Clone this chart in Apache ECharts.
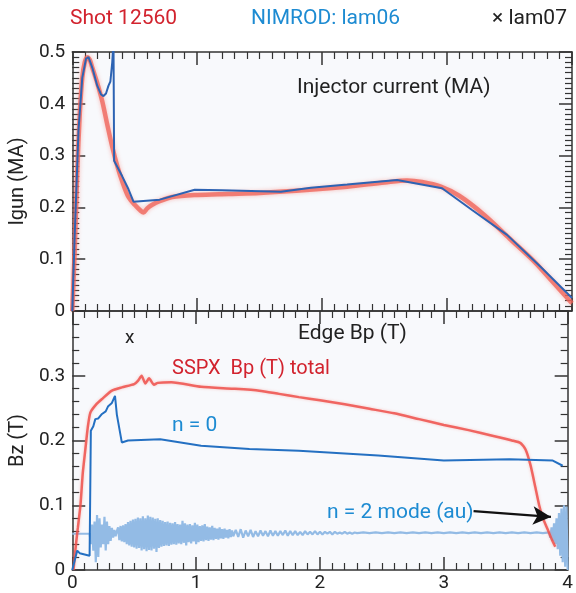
<!DOCTYPE html>
<html><head><meta charset="utf-8">
<script src="https://cdn.jsdelivr.net/npm/echarts@6/dist/echarts.min.js"></script>
<style>html,body{margin:0;padding:0;background:#fff}#c{width:576px;height:593px}</style>
</head><body><div id="c"></div>
<script>
// ---- Data ----
const xTicks = [0, 1, 2, 3, 4];
const topYTicks = [0, 0.1, 0.2, 0.3, 0.4, 0.5];
const botYTicks = [0, 0.1, 0.2, 0.3];

// Top panel: injector current (MA)
const shotIgun = [[0,0],[0.02,0.12],[0.04,0.27],[0.06,0.38],[0.08,0.45],[0.10,0.48],[0.12,0.49],[0.14,0.485],[0.16,0.47],[0.20,0.44],[0.24,0.405],[0.28,0.36],[0.32,0.317],[0.36,0.28],[0.40,0.25],[0.45,0.22],[0.50,0.205],[0.55,0.193],[0.57,0.19],[0.60,0.198],[0.64,0.205],[0.70,0.212],[0.80,0.220],[1.0,0.224],[1.25,0.226],[1.5,0.228],[1.9,0.234],[2.2,0.240],[2.5,0.248],[2.68,0.252],[2.8,0.249],[2.95,0.240],[3.1,0.222],[3.3,0.185],[3.5,0.140],[3.7,0.095],[3.85,0.055],[4.0,0.015]];
const nimrodIgun = [[0,0],[0.02,0.15],[0.05,0.35],[0.08,0.45],[0.11,0.487],[0.13,0.49],[0.16,0.47],[0.20,0.435],[0.23,0.418],[0.25,0.415],[0.27,0.42],[0.29,0.435],[0.305,0.443],[0.32,0.48],[0.33,0.52],[0.335,0.29],[0.40,0.26],[0.45,0.235],[0.49,0.211],[0.7,0.215],[0.98,0.234],[1.2,0.233],[1.51,0.231],[1.67,0.230],[1.91,0.238],[2.2,0.244],[2.6,0.253],[2.96,0.237],[3.2,0.195],[3.48,0.147],[3.75,0.085],[4.0,0.025]];

// Bottom panel: edge Bp (T)
const sspxBp = [[0.01,0.0],[0.03,0.04],[0.045,0.065],[0.066,0.1],[0.085,0.15],[0.106,0.187],[0.125,0.22],[0.146,0.243],[0.19,0.255],[0.24,0.264],[0.32,0.277],[0.40,0.282],[0.50,0.287],[0.53,0.292],[0.56,0.300],[0.59,0.288],[0.62,0.296],[0.66,0.286],[0.69,0.289],[0.8,0.290],[1.04,0.283],[1.3,0.280],[1.51,0.277],[1.67,0.272],[1.83,0.267],[2.0,0.262],[2.2,0.256],[2.4,0.249],[2.6,0.242],[2.8,0.233],[3.0,0.224],[3.2,0.216],[3.4,0.207],[3.55,0.200],[3.62,0.196],[3.66,0.186],[3.70,0.162],[3.74,0.127],[3.77,0.100],[3.80,0.080],[3.84,0.062],[3.87,0.048],[3.90,0.036]];
const nZero = [[0,0],[0.02,0.015],[0.04,0.03],[0.06,0.026],[0.10,0.024],[0.14,0.022],[0.15,0.215],[0.17,0.222],[0.186,0.233],[0.21,0.234],[0.24,0.241],[0.27,0.245],[0.29,0.253],[0.32,0.258],[0.345,0.269],[0.36,0.24],[0.40,0.197],[0.45,0.200],[0.71,0.202],[1.04,0.192],[1.43,0.187],[1.83,0.184],[2.47,0.177],[3.0,0.169],[3.53,0.171],[3.88,0.169],[3.96,0.161]];

// n = 2 mode (au): sampled segments {start, step, values}
const n2Flat = [[0,0.056],[0.14,0.056]];
const n2SegB = {start:0.15, step:0.01, values:[0.040,0.070,0.030,0.075,0.012,0.085,0.020,0.080,0.035,0.070,0.040,0.082,0.030,0.075,0.040,0.068,0.045,0.065,0.050,0.062,0.052,0.060]};
const n2SegC = {start:0.37, step:0.01, values:[0.066,0.046,0.068,0.044,0.069,0.043,0.071,0.040,0.074,0.038,0.076,0.036,0.078,0.035,0.079,0.033,0.081,0.034,0.080,0.030,0.083,0.032,0.080,0.029,0.084,0.031,0.082,0.030,0.081,0.033,0.079,0.028,0.080,0.034,0.077,0.036,0.076,0.037,0.074,0.038,0.075,0.037,0.073,0.039,0.072,0.040,0.074,0.039,0.071,0.041,0.070,0.040,0.076,0.042,0.072,0.038,0.070,0.043,0.071,0.041,0.069,0.044,0.073,0.040,0.070,0.043,0.068,0.045,0.069,0.044,0.071,0.046,0.067,0.045,0.066,0.047,0.068,0.046,0.065,0.048,0.064,0.047,0.066,0.049,0.063,0.048,0.064,0.050,0.062,0.049,0.063,0.051,0.061,0.052]};
const n2SegD = {start:1.32, step:0.02, values:[0.062,0.051,0.063,0.050,0.061,0.052,0.062,0.051,0.060,0.052,0.061,0.053,0.060,0.052,0.061,0.053,0.060,0.053,0.060,0.054,0.061,0.053,0.060,0.054,0.060,0.054,0.059,0.054,0.060,0.055,0.059,0.055,0.060,0.055,0.059,0.055,0.059,0.056,0.059,0.055,0.059,0.056,0.058,0.056,0.059,0.056,0.058,0.056,0.058,0.057]};
const n2SegE = {start:2.35, step:0.05, values:[0.058,0.057,0.058,0.057,0.058,0.057,0.058,0.057,0.058,0.057,0.058,0.057,0.058,0.057,0.058,0.057,0.058,0.057,0.058,0.057,0.058,0.057,0.058,0.057,0.058,0.057,0.058,0.057,0.058,0.057,0.058]};
const n2SegF = {start:3.86, step:0.01, values:[0.050,0.066,0.045,0.072,0.040,0.080,0.032,0.088,0.022,0.095,0.012,0.100,0.005,0.098,0.0]};

// Annotation arrow (data coords, bottom panel)
const arrowFrom = [3.24, 0.091];
const arrowTo = [3.865, 0.082];

// ---- Build ----
function seg(s){ return s.values.map((v,i)=>[+(s.start+i*s.step).toFixed(4), v]); }
const nTwo = n2Flat.concat(seg(n2SegB), seg(n2SegC), seg(n2SegD), seg(n2SegE), seg(n2SegF));

const FONT = 'Roboto';
const AX = '#333';
function xAx(grid, pos, labels){
  return {type:'value', gridIndex:grid, position:pos, min:0, max:4, interval:1,
    axisLine:{show:true, onZero:false, lineStyle:{color:AX, width:1.5}},
    axisTick:{show:true, inside:true, length:13, lineStyle:{color:AX, width:1.5}},
    minorTick:{show:true, splitNumber:10, length:7, lineStyle:{color:AX, width:1.2}},
    splitLine:{show:false},
    axisLabel:{show:labels, color:'#222', fontSize:19, fontFamily:FONT, margin:4,
      formatter: v => xTicks.includes(v) ? String(v) : ''}};
}
function yAx(grid, pos, max, minorN, labels, ticks, name){
  return {type:'value', gridIndex:grid, position:pos, min:0, max:max, interval:0.1,
    name: name || '', nameLocation:'middle', nameGap:42, nameRotate:90,
    nameTextStyle:{color:'#222', fontSize:20, fontFamily:FONT},
    axisLine:{show:true, onZero:false, lineStyle:{color:AX, width:1.5}},
    axisTick:{show:true, inside:true, length:13, lineStyle:{color:AX, width:1.5}},
    minorTick:{show:true, splitNumber:minorN, length:7, lineStyle:{color:AX, width:1.2}},
    splitLine:{show:false},
    axisLabel:{show:labels, color:'#222', fontSize:19, fontFamily:FONT, margin:7,
      formatter: v => { const r = Math.round(v*10)/10; return ticks.includes(r) ? String(r) : ''; }}};
}

const chart = echarts.init(document.getElementById('c'), null, {renderer:'canvas'});
chart.setOption({
  animation:false,
  backgroundColor:'#fff',
  grid:[
    {left:70, top:52, width:502, height:259, show:true, backgroundColor:'#f8f9fc', borderWidth:0},
    {left:70, top:311, width:502, height:261, show:true, backgroundColor:'#f8f9fc', borderWidth:0}
  ],
  xAxis:[ xAx(0,'bottom',false), xAx(0,'top',false), xAx(1,'bottom',true), xAx(1,'top',false) ],
  yAxis:[ yAx(0,'left',0.5,10,true,topYTicks,'Igun (MA)'), yAx(0,'right',0.5,10,false,topYTicks),
          yAx(1,'left',0.4,5,true,botYTicks,'Bz (T)'), yAx(1,'right',0.4,5,false,botYTicks) ],
  series:[
    {type:'line', xAxisIndex:0, yAxisIndex:0, data:shotIgun, showSymbol:false, smooth:0.3,
      lineStyle:{color:'rgba(240,100,90,0.78)', width:4.5, shadowColor:'rgba(245,120,110,0.6)', shadowBlur:4}, z:2},
    {type:'line', xAxisIndex:0, yAxisIndex:0, data:nimrodIgun, showSymbol:false,
      lineStyle:{color:'#2d63b3', width:2}, z:3},
    {type:'line', xAxisIndex:2, yAxisIndex:2, data:nTwo, showSymbol:false,
      lineStyle:{color:'#93bbe5', width:2.2}, z:2},
    {type:'line', xAxisIndex:2, yAxisIndex:2, data:sspxBp, showSymbol:false, smooth:0.2,
      lineStyle:{color:'rgba(238,80,75,0.85)', width:2.5, shadowColor:'rgba(245,130,120,0.5)', shadowBlur:3}, z:3},
    {type:'line', xAxisIndex:2, yAxisIndex:2, data:nZero, showSymbol:false,
      lineStyle:{color:'#2470c2', width:2}, z:4,
      markLine:{silent:true, symbol:['none','arrow'], symbolSize:[14,18], label:{show:false},
        lineStyle:{color:'#111', width:2.2, type:'solid'},
        data:[[{coord:arrowFrom},{coord:arrowTo}]]}}
  ],
  graphic:[
    {type:'text', left:70, top:8, style:{text:'Shot 12560', fill:'#d2232e', font:'21px Roboto'}},
    {type:'text', left:251, top:8, style:{text:'NIMROD: lam06', fill:'#1d8bd2', font:'21px Roboto'}},
    {type:'text', left:492, top:8, style:{text:'× lam07', fill:'#222', font:'21px Roboto'}},
    {type:'text', left:297, top:77, style:{text:'Injector current (MA)', fill:'#222', font:'21px Roboto'}},
    {type:'text', left:298, top:323, style:{text:'Edge Bp (T)', fill:'#222', font:'21px Roboto'}},
    {type:'text', left:125, top:329, style:{text:'x', fill:'#222', font:'19px Roboto'}},
    {type:'text', left:172, top:359, style:{text:'SSPX  Bp (T) total', fill:'#d2232e', font:'20px Roboto'}},
    {type:'text', left:172, top:415, style:{text:'n = 0', fill:'#1d8bd2', font:'21px Roboto'}},
    {type:'text', left:327, top:502, style:{text:'n = 2 mode (au)', fill:'#1d8bd2', font:'21px Roboto'}}
  ]
});
</script>
</body></html>
